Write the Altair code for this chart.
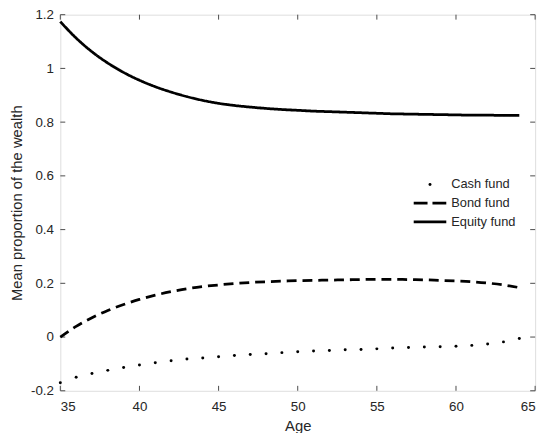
import altair as alt
import pandas as pd

ages = list(range(35, 65))
cash = [-0.170, -0.150, -0.136, -0.124, -0.113, -0.104, -0.096, -0.088, -0.082, -0.078,
        -0.073, -0.069, -0.065, -0.062, -0.058, -0.055, -0.052, -0.050, -0.047, -0.046,
        -0.044, -0.041, -0.039, -0.037, -0.036, -0.034, -0.031, -0.026, -0.018, -0.005]
bond = [0.000, 0.040, 0.072, 0.099, 0.121, 0.140, 0.156, 0.169, 0.180, 0.188,
        0.194, 0.199, 0.203, 0.206, 0.208, 0.210, 0.211, 0.212, 0.213, 0.214,
        0.215, 0.215, 0.214, 0.213, 0.211, 0.209, 0.206, 0.201, 0.194, 0.184]
equity = [1.174, 1.113, 1.062, 1.020, 0.985, 0.956, 0.932, 0.912, 0.895, 0.881,
          0.870, 0.862, 0.856, 0.851, 0.847, 0.844, 0.841, 0.839, 0.837, 0.835,
          0.833, 0.831, 0.830, 0.829, 0.828, 0.827, 0.826, 0.826, 0.825, 0.825]
series_names = ["Cash fund", "Bond fund", "Equity fund"]
x_ticks = [35, 40, 45, 50, 55, 60, 65]
y_ticks = [-0.2, 0.0, 0.2, 0.4, 0.6, 0.8, 1.0, 1.2]

W, H = 481, 381
FONT = "Liberation Sans"
TXT = "#262626"
BOX = "#6a6a6a"
TICKC = "#4a4a4a"
TICK = 5

xs = alt.Scale(domain=[35, 65], nice=False, zero=False)
ys = alt.Scale(domain=[-0.2, 1.2], nice=False, zero=False)

lines_df = pd.DataFrame({
    "age": ages * 2,
    "value": bond + equity,
    "series": [series_names[1]] * len(ages) + [series_names[2]] * len(ages),
})
cash_df = pd.DataFrame({"age": ages, "value": cash})

x_axis = alt.Axis(values=x_ticks, ticks=False, domain=False, grid=False,
                  labelPadding=9, title="Age", titlePadding=6,
                  labelFontSize=13.5, titleFontSize=15, labelFont=FONT, titleFont=FONT,
                  labelColor=TXT, titleColor=TXT, titleFontWeight="normal")
y_axis = alt.Axis(values=y_ticks, ticks=False, domain=False, grid=False,
                  labelPadding=7, title="Mean proportion of the wealth", titlePadding=6,
                  labelExpr="datum.value < 0 ? '-' + format(-datum.value, '~g') : format(datum.value, '~g')",
                  labelFontSize=13.5, titleFontSize=15, labelFont=FONT, titleFont=FONT,
                  labelColor=TXT, titleColor=TXT, titleFontWeight="normal")

lines = alt.Chart(lines_df).mark_line(color="black", strokeWidth=2.8, interpolate="monotone").encode(
    x=alt.X("age:Q", scale=xs, axis=x_axis),
    y=alt.Y("value:Q", scale=ys, axis=y_axis),
    strokeDash=alt.StrokeDash("series:N", scale=alt.Scale(domain=series_names[1:], range=[[10, 6], [1, 0]]), legend=None),
    detail="series:N",
)

dots = alt.Chart(cash_df).mark_point(filled=True, color="black", size=9, opacity=1).encode(
    x=alt.X("age:Q", scale=xs),
    y=alt.Y("value:Q", scale=ys),
)

yt_df = pd.DataFrame({"v": y_ticks})
xt_df = pd.DataFrame({"v": x_ticks})
ytl = alt.Chart(yt_df).mark_rule(color=TICKC, strokeWidth=1).encode(
    y=alt.Y("v:Q", scale=ys), x=alt.value(0), x2=alt.value(TICK))
ytr = alt.Chart(yt_df).mark_rule(color=TICKC, strokeWidth=1).encode(
    y=alt.Y("v:Q", scale=ys), x=alt.value(W - TICK), x2=alt.value(W))
xtb = alt.Chart(xt_df).mark_rule(color=TICKC, strokeWidth=1).encode(
    x=alt.X("v:Q", scale=xs), y=alt.value(H - TICK), y2=alt.value(H))
xtt = alt.Chart(xt_df).mark_rule(color=TICKC, strokeWidth=1).encode(
    x=alt.X("v:Q", scale=xs), y=alt.value(0), y2=alt.value(TICK))

# legend
LX_TXT, LX0, LX1 = 396, 358, 391
rows_y = [172, 191, 210]
leg_df = pd.DataFrame({"label": series_names})
legend_layers = []
for i, name in enumerate(series_names):
    d = leg_df[leg_df["label"] == name]
    legend_layers.append(
        alt.Chart(d).mark_text(align="left", baseline="middle", fontSize=13, font=FONT, color=TXT).encode(
            x=alt.value(LX_TXT), y=alt.value(rows_y[i]), text="label:N"))
legend_layers.append(
    alt.Chart(leg_df[leg_df["label"] == series_names[0]]).mark_point(filled=True, color="black", size=9, opacity=1).encode(
        x=alt.value((LX0 + LX1) / 2), y=alt.value(rows_y[0])))
legend_layers.append(
    alt.Chart(leg_df[leg_df["label"] == series_names[1]]).mark_rule(color="black", strokeWidth=2.8, strokeDash=[14, 5]).encode(
        x=alt.value(LX0), x2=alt.value(LX1), y=alt.value(rows_y[1])))
legend_layers.append(
    alt.Chart(leg_df[leg_df["label"] == series_names[2]]).mark_rule(color="black", strokeWidth=2.8).encode(
        x=alt.value(LX0), x2=alt.value(LX1), y=alt.value(rows_y[2])))

chart = alt.layer(ytl, ytr, xtb, xtt, lines, dots, *legend_layers).properties(
    width=W, height=H,
    autosize=alt.AutoSizeParams(type="none"),
    padding={"left": 53, "top": 4, "right": 10, "bottom": 40},
).configure_view(stroke=BOX, strokeWidth=1).configure(background="white")

chart.save("out.html", embed_options={"renderer": "svg", "actions": False})
